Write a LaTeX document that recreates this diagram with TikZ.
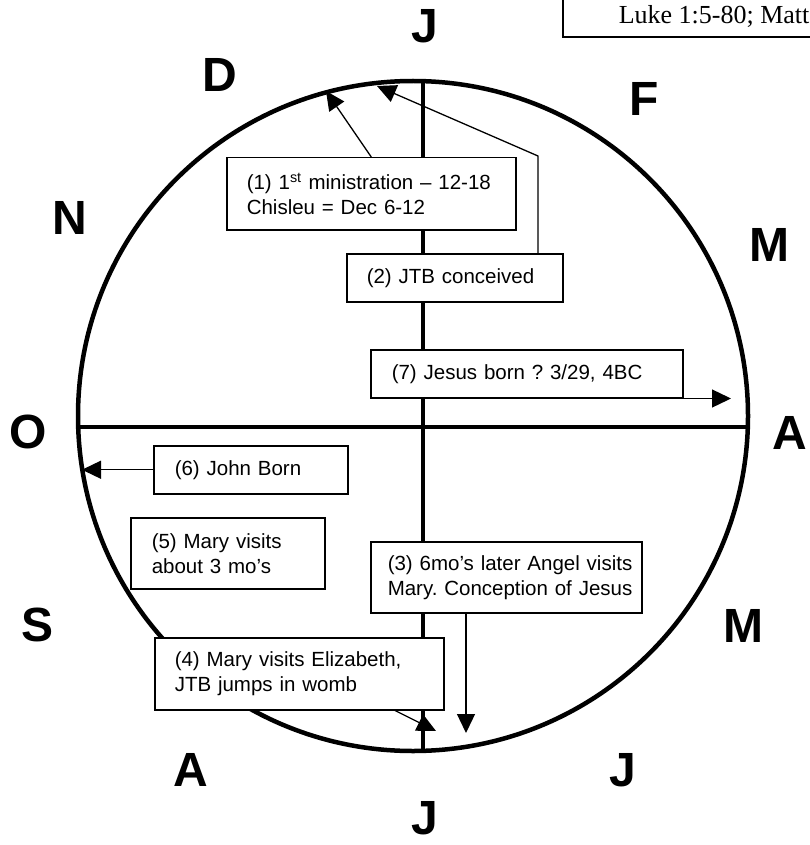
\documentclass[tikz,border=0pt]{standalone}
\usepackage{fontspec}
\setmainfont{Liberation Sans}
\newfontfamily\refsfont{Liberation Serif}
\usetikzlibrary{arrows.meta}
\frenchspacing

\tikzset{
  month/.style={font=\fontsize{48}{50}\selectfont\bfseries, inner sep=0pt},
  evbox/.style={draw, fill=white, line width=1.5pt, align=left, anchor=north west,
    inner ysep=0pt, font=\fontsize{20.5}{25}\selectfont},
  ptr/.style={line width=1.3pt, -{Triangle[length=19pt,width=18pt]}},
  axis/.style={line width=4.5pt}
}

\begin{document}
\begin{tikzpicture}[x=1pt, y=-1pt]
    \useasboundingbox (0,0) rectangle (809,845);

    % Circulo del año y ejes
    \coordinate (ctr) at (413,416);
    \draw[axis] (ctr) circle[radius=335pt];
    \draw[axis] (78,427) -- (748,427);
    \draw[axis] (423,81) -- (423,751);

    % Referencia (cortada a la derecha)
    \node[draw, line width=1.5pt, anchor=base west, inner xsep=56pt, inner ysep=8pt,
          text height=45pt, text depth=5pt, font=\fontsize{26}{28}\selectfont\refsfont]
          (refs) at (562,24) {Luke 1:5-80; Matt};

    % Meses
    \foreach \nm/\lt/\px/\py in {jan/J/425/26, feb/F/644/99, mar/M/769/245,
        apr/A/790/433, may/M/743/626, jun/J/623/770, jul/J/425/818,
        aug/A/191/770, sep/S/38/625, oct/O/28/432, nov/N/70/218, dec/D/220/75}
        \node[month] (\nm) at (\px,\py) {\lt};

    % Puntas de las flechas
    \coordinate (tip1) at (326,91);
    \coordinate (bend2) at (538,156);
    \coordinate (tip2) at (377,86);
    \coordinate (tip7) at (731,397);
    \coordinate (tip6) at (82,469);
    \coordinate (tip3) at (466,733);
    \coordinate (tip4) at (436,731);

    % Cuadros
    \node[evbox, text width=249pt, inner xsep=20pt, minimum height=72pt] (box1) at (226,157)
        {\mbox{(1) 1\textsuperscript{st} ministration \textendash{} 12-18}\\Chisleu = Dec 6-12};
    \node[evbox, text width=176pt, inner xsep=20pt, minimum height=48pt] (box2) at (346,253)
        {(2) JTB conceived};
    \node[evbox, text width=270pt, inner xsep=21pt, minimum height=48pt] (box7) at (370,349)
        {(7) Jesus born ? 3/29, 4BC};
    \node[evbox, text width=152pt, inner xsep=21pt, minimum height=48pt] (box6) at (153,445)
        {(6) John Born};
    \node[evbox, text width=152pt, inner xsep=21pt, minimum height=71pt] (box5) at (130,517)
        {(5) Mary visits\\about 3 mo’s};
    \node[evbox, text width=237pt, inner xsep=17pt, minimum height=71pt] (box3) at (370,541)
        {\mbox{(3) 6mo’s later Angel visits}\\\mbox{Mary. Conception of Jesus}};
    \node[evbox, text width=249pt, inner xsep=20pt, minimum height=72pt] (box4) at (154,637)
        {(4) Mary visits Elizabeth,\\JTB jumps in womb};

    % Flechas
    \draw[ptr] (box1.north) -- (tip1);
    \draw[ptr] (box2.north -| bend2) -- (bend2) -- (tip2);
    \draw[ptr] (box7.south east) -- (box7.south east -| tip7);
    \draw[ptr] (box6.west) -- (box6.west -| tip6);
    \draw[ptr] (box3.south -| tip3) -- (tip3);
    \draw[ptr] (box4.-21) -- (tip4);
\end{tikzpicture}
\end{document}
